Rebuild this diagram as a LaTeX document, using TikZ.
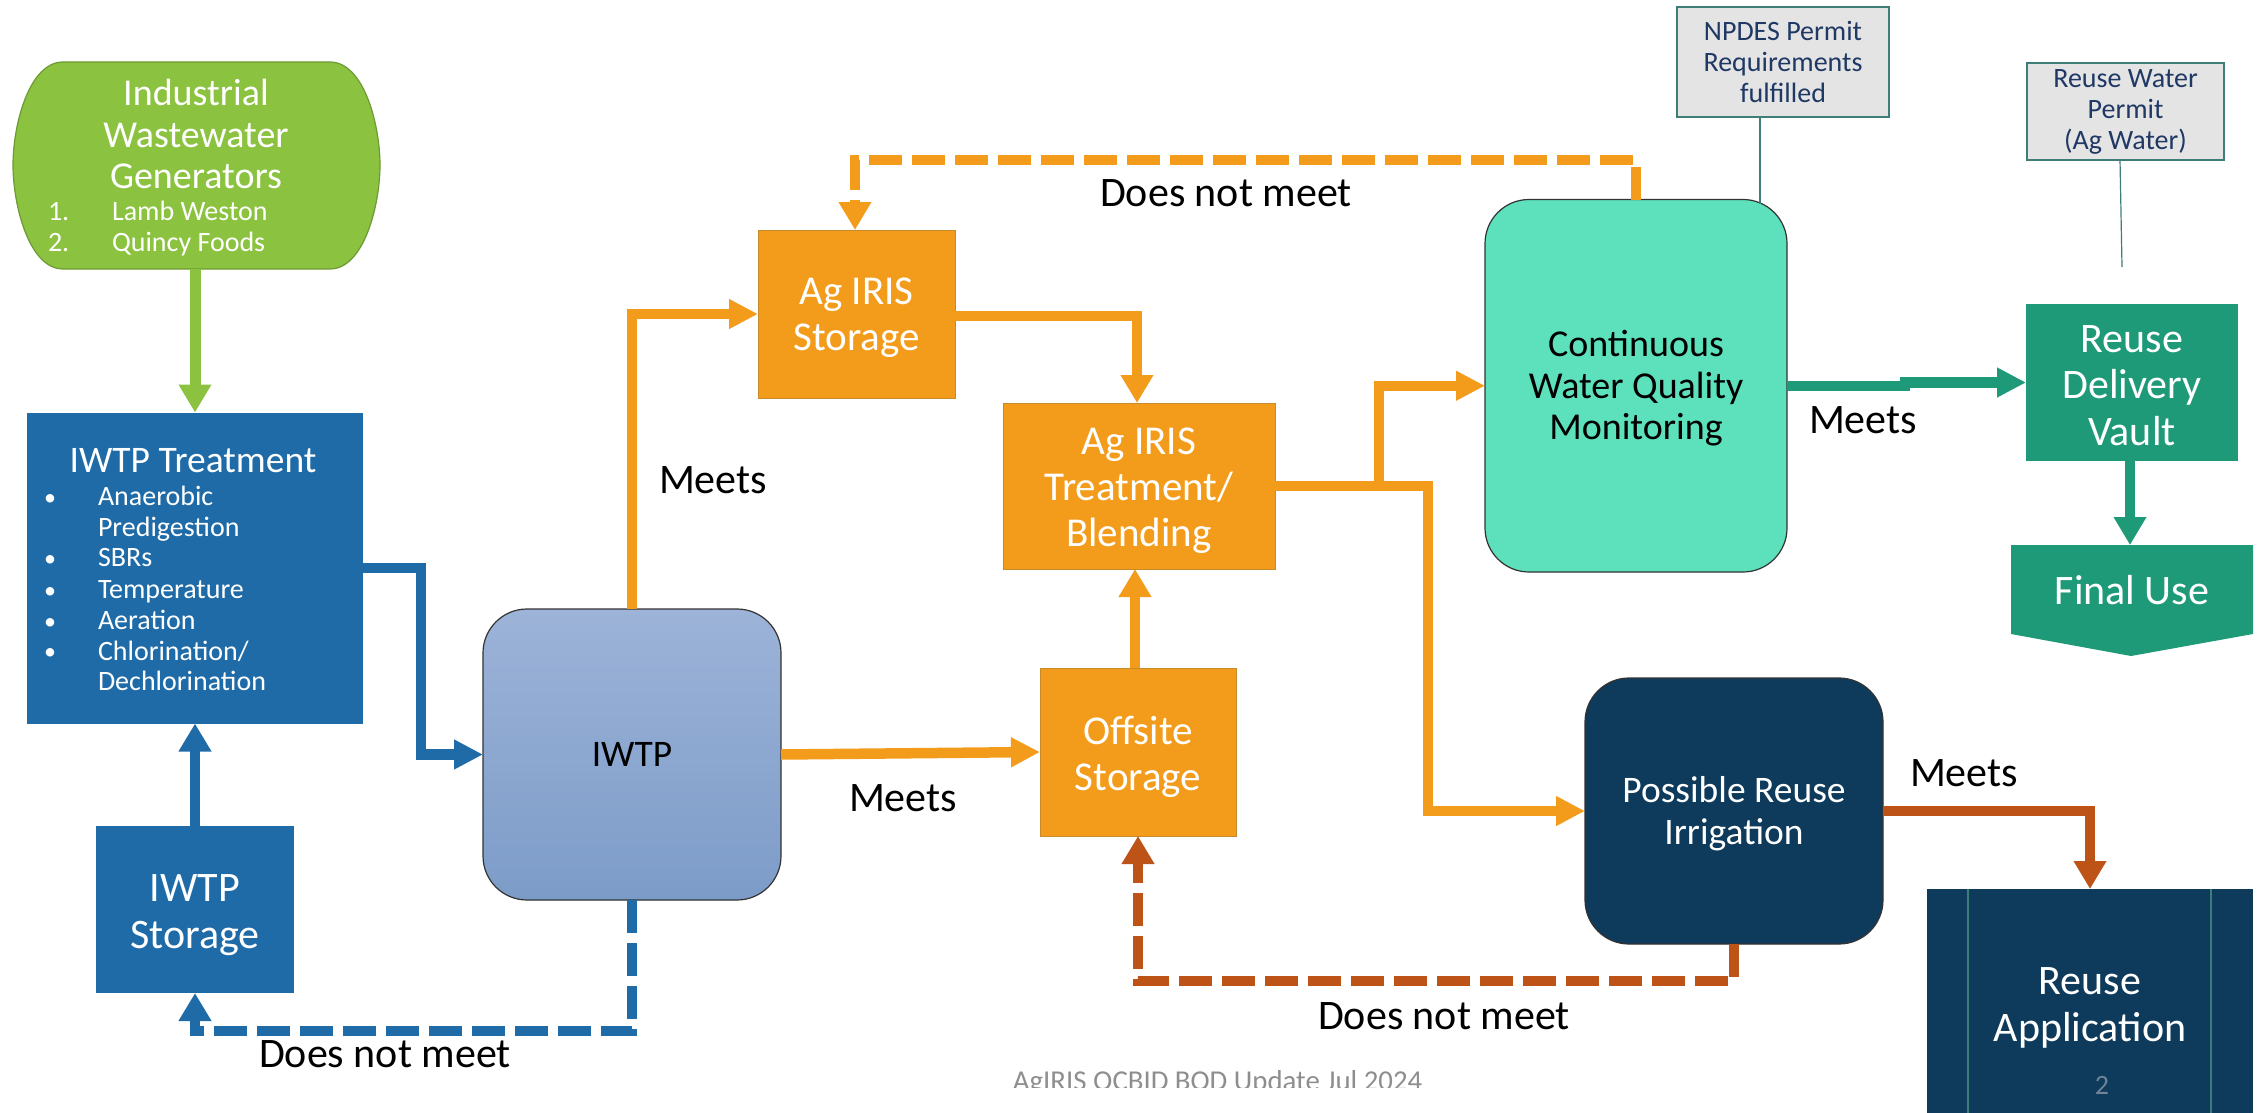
\documentclass[tikz,border=0pt]{standalone}
\usepackage{fontspec}
\setmainfont{Carlito}
\usetikzlibrary{arrows.meta,calc}
\definecolor{cgreen}{HTML}{8BC240}
\definecolor{cgreenline}{HTML}{6E9A35}
\definecolor{cblue}{HTML}{1F6BA8}
\definecolor{corange}{HTML}{F39C1B}
\definecolor{corangeline}{HTML}{C98A2B}
\definecolor{cmint}{HTML}{5CE1BC}
\definecolor{cteal}{HTML}{1E9A78}
\definecolor{cnavy}{HTML}{0E3A5B}
\definecolor{cred}{HTML}{BE5318}
\definecolor{cnote}{HTML}{E4E4E4}
\definecolor{cnoteline}{HTML}{3E7D78}
\definecolor{cnotetext}{HTML}{1F3864}
\definecolor{cfoot}{HTML}{8E8E8E}
\definecolor{cpagenum}{HTML}{6E8496}
\definecolor{ciwtptop}{HTML}{9DB3D8}
\definecolor{ciwtpbot}{HTML}{7C9CC8}
\newcommand{\fsz}[2]{\fontsize{#1}{#2}\selectfont}
\newcommand{\dn}[1]{\rule{0pt}{#1}}
\tikzset{
  every node/.style={inner sep=0pt,outer sep=0pt},
  solidbox/.style={rectangle,align=center,text=white,font=\fsz{42}{46.5}},
  orangebox/.style={solidbox,fill=corange,draw=corangeline,line width=1pt,font=\fsz{41}{46}},
  roundbox/.style={rectangle,rounded corners=44pt,align=center,draw=black!80,line width=1.2pt,font=\fsz{37.5}{41.5}},
  notebox/.style={rectangle,align=center,fill=cnote,draw=cnoteline,line width=1.2pt,text=cnotetext,font=\fsz{28}{31}},
  edgelabel/.style={text=black,font=\fsz{42}{46}},
  small/.style={text=white,font=\fsz{28}{30},anchor=west,text height=22pt,text depth=6pt},
  flow/.style={line width=10.5pt,-{Triangle[length=28pt,width=31pt]}},
  hflow/.style={line width=10.5pt,-{Triangle[length=29pt,width=28pt]}},
  dashflow/.style={flow,dash pattern=on 33pt off 10pt},
  noteline/.style={draw=cnoteline,line width=1.2pt}
}
\begin{document}
\begin{tikzpicture}[x=1pt,y=-1pt]
\useasboundingbox (0,0) rectangle (2259,1113);
\fill[white] (0,0) rectangle (2259,1113);
% green terminator shape
\filldraw[fill=cgreen,draw=cgreenline,line width=1.2pt]
  (63,62) -- (330,62) .. controls (364,62) and (380,125) .. (380,165)
  .. controls (380,205) and (364,269) .. (330,269) -- (63,269)
  .. controls (29,269) and (13,205) .. (13,165)
  .. controls (13,125) and (29,62) .. (63,62) -- cycle;
\node[rectangle,minimum width=367pt,minimum height=207pt] (green) at (196.5,165.5) {};
\node[text=white,align=center,font=\fsz{38}{41.5}] (greentitle) at (196,134) {Industrial\\Wastewater\\Generators};
\node[small] (g1n) at (48,212) {1.};
\node[small] (g1) at (112,212) {Lamb Weston};
\node[small] (g2n) at (48,243) {2.};
\node[small] (g2) at (112,243) {Quincy Foods};
% IWTP Treatment
\node[solidbox,fill=cblue,minimum width=336.5pt,minimum height=311pt] (treat) at (195,568) {};
\node[text=white,font=\fsz{37.5}{40}] (treattitle) at (193,461) {IWTP Treatment};
\node[small,font=\fsz{24}{30}] (b1) at (44,497) {•};
\node[small] (t1) at (98,497) {Anaerobic};
\node[small] (t1b) at (98,528) {Predigestion};
\node[small,font=\fsz{24}{30}] (b2) at (44,558) {•};
\node[small] (t2) at (98,558) {SBRs};
\node[small,font=\fsz{24}{30}] (b3) at (44,590) {•};
\node[small] (t3) at (98,590) {Temperature};
\node[small,font=\fsz{24}{30}] (b4) at (44,621) {•};
\node[small] (t4) at (98,621) {Aeration};
\node[small,font=\fsz{24}{30}] (b5) at (44,651) {•};
\node[small] (t5) at (98,652) {Chlorination/};
\node[small] (t5b) at (98,682) {Dechlorination};
% other boxes
\node[solidbox,fill=cblue,minimum width=198pt,minimum height=167pt] (storage) at (195,909.5) {\dn{38.5pt}IWTP\\Storage};
\node[roundbox,minimum width=298pt,minimum height=291pt,top color=ciwtptop,bottom color=ciwtpbot] (iwtp) at (632,754.5) {IWTP};
\node[orangebox,minimum width=197pt,minimum height=168pt] (agstore) at (856.5,314) {\dn{34pt}Ag IRIS\\Storage};
\node[orangebox,minimum width=272pt,minimum height=166pt] (blend) at (1139,486) {\dn{36pt}Ag IRIS\\Treatment/\\Blending};
\node[orangebox,minimum width=196pt,minimum height=168pt] (offsite) at (1138,752) {\dn{38pt}Offsite\\Storage};
\node[roundbox,fill=cmint,font=\fsz{38}{41.5},minimum width=302pt,minimum height=372.5pt] (mon) at (1636,385.75) {\dn{32pt}Continuous\\Water Quality\\Monitoring};
\node[notebox,minimum width=212pt,minimum height=110pt] (npdes) at (1783,62) {NPDES Permit\\Requirements\\fulfilled};
\node[notebox,minimum width=197pt,minimum height=97pt] (permit) at (2125.5,111.5) {Reuse Water\\Permit\\(Ag Water)};
\node[solidbox,fill=cteal,minimum width=212pt,minimum height=157pt] (vault) at (2132,382.5) {\dn{33pt}Reuse\\Delivery\\Vault};
\fill[cteal] (2011,545) -- (2253,545) -- (2253,634) -- (2131,656) -- (2011,634) -- cycle;
\node[solidbox,minimum width=242pt,minimum height=90pt] (finaluse) at (2132,590) {Final Use};
\node[roundbox,fill=cnavy,text=white,minimum width=298pt,minimum height=266pt] (poss) at (1734,811) {\dn{31.5pt}Possible Reuse\\Irrigation};
\node[solidbox,fill=cnavy,minimum width=326pt,minimum height=224pt] (app) at (2090,1001) {\dn{41pt}Reuse\\Application};
\draw[noteline] (1968,889) -- (1968,1113);
\draw[noteline] (2211,889) -- (2211,1113);
\node[text=cpagenum,font=\fsz{28}{30}] (pagenum) at (2102,1085) {2};
\begin{scope}
\clip (900,1060) rectangle (1500,1087);
\node[text=cfoot,font=\fsz{28.8}{30},text height=22pt,text depth=6pt] (footer) at (1217.6,1082) {AgIRIS QCBID BOD Update Jul 2024};
\end{scope}
% labels
\node[edgelabel] (m1) at (713,480) {Meets};
\node[edgelabel] (m2) at (903,798) {Meets};
\node[edgelabel] (m3) at (1863,420) {Meets};
\node[edgelabel] (m4) at (1964,773) {Meets};
\node[edgelabel] (d1) at (385,1054) {Does not meet};
\node[edgelabel] (d2) at (1226,193) {Does not meet};
\node[edgelabel] (d3) at (1444,1016) {Does not meet};
% note leaders
\coordinate (npdesend) at (1760,204);
\coordinate (permitend) at (2122,267);
\draw[noteline] (npdes.south -| npdesend) -- (npdesend);
\draw[noteline] ([xshift=-5.5pt]permit.south) -- (permitend);
% connectors
\draw[flow,line width=11pt,draw=cgreen] (green.south -| treat.north) -- (treat.north);
\draw[flow,draw=cblue] (storage.north) -- (treat.south);
\coordinate (bluebend) at (421,600);
\draw[hflow,draw=cblue] (treat.east) -- (treat.east -| bluebend) |- (iwtp.west);
\coordinate (bluelow) at (632,1031);
\draw[dashflow,draw=cblue] (iwtp.south) -- (bluelow) -| (storage.south);
\draw[hflow,draw=corange] (iwtp.north) |- (agstore.west);
\draw[hflow,draw=corange] (iwtp.east) -- (offsite.west);
\draw[flow,draw=corange] ([yshift=-2pt]agstore.east) -| ([xshift=-2pt]blend.north);
\draw[flow,draw=corange] ([xshift=-3pt]offsite.north) -- ([xshift=-3pt]offsite.north |- blend.south);
\coordinate (splitup) at (1379,486);
\coordinate (splitdown) at (1428,486);
\draw[hflow,draw=corange] (blend.east) -- (splitdown) |- (poss.west);
\draw[hflow,draw=corange] (splitup) |- (mon.west);
\coordinate (jog) at (1905,385.75);
\draw[hflow,draw=cteal] (mon.east) -- (jog) -- (jog |- vault.west) -- (vault.west);
\draw[flow,draw=cteal] ([xshift=-2pt]vault.south) -- ([xshift=-2pt]finaluse.north);
\coordinate (orangetop) at (1636,160);
\draw[dashflow,draw=corange] (mon.north) -- (orangetop) -| ([xshift=-1.5pt]agstore.north);
\draw[flow,draw=cred] (poss.east) -| (app.north);
\coordinate (redlow) at (1734,981);
\draw[dashflow,draw=cred] (poss.south) -- (redlow) -| (offsite.south);
\end{tikzpicture}
\end{document}
